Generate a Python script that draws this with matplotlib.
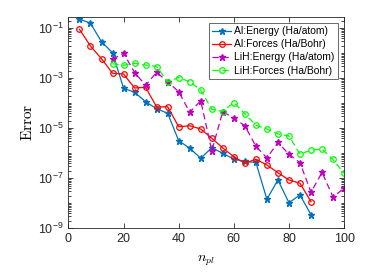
import numpy as np
from matplotlib import pyplot as plt
from matplotlib.ticker import FixedLocator, NullFormatter

plt.rcParams['font.family'] = ['Liberation Sans', 'DejaVu Sans']
plt.rcParams['mathtext.fontset'] = 'cm'

# Al results, n_pl = 4..88
n_al = list(range(4, 89, 4))
al_energy_log = [-0.63, -0.80, -1.54, -1.98, -3.40, -3.56, -3.94, -4.22, -4.40, -5.50,
                 -5.80, -6.20, -5.78, -6.00, -6.24, -6.33, -6.37, -7.84, -7.07, -7.98,
                 -7.67, -8.46]
al_forces_log = [-1.04, -1.71, -2.22, -2.80, -2.83, -3.39, -3.36, -4.15, -4.14, -4.94,
                 -4.90, -5.03, -5.40, -5.79, -6.14, -6.40, -6.24, -6.47, -6.78, -7.07,
                 -7.20, -7.94]

# LiH results, n_pl = 16..100
n_lih = list(range(16, 101, 4))
lih_energy_log = [-2.24, -2.00, -2.77, -3.28, -2.76, -3.14, -3.54, -4.36, -3.90, -5.90,
                  -4.33, -4.60, -4.90, -5.72, -6.19, -5.57, -6.04, -6.38, -7.56, -6.77,
                  -7.75, -7.40]
lih_forces_log = [-2.42, -2.48, -2.40, -2.47, -2.53, -3.14, -2.97, -3.14, -3.47, -4.24,
                  -4.33, -3.97, -4.42, -4.88, -5.03, -5.23, -5.31, -6.04, -5.87, -5.84,
                  -6.25, -6.81]

fig = plt.figure(figsize=(3.74, 2.8), dpi=100)
ax = fig.add_axes([0.183, 0.185, 0.737, 0.755])

ax.semilogy(n_al, 10.0 ** np.array(al_energy_log), '-', color='#0072BD', marker='*',
            markersize=4.5, lw=0.9, label='Al:Energy (Ha/atom)')
ax.semilogy(n_al, 10.0 ** np.array(al_forces_log), '-', color='r', marker='o',
            markersize=4, mfc='none', mew=0.9, lw=0.9, label='Al:Forces (Ha/Bohr)')
ax.semilogy(n_lih, 10.0 ** np.array(lih_energy_log), '--', color='m', marker='*',
            markersize=4.5, lw=0.9, dashes=(5, 3), label='LiH:Energy (Ha/atom)')
ax.semilogy(n_lih, 10.0 ** np.array(lih_forces_log), '--', color='#00FF00', marker='o',
            markersize=4, mfc='none', mew=0.9, lw=0.9, dashes=(5, 3),
            label='LiH:Forces (Ha/Bohr)')

ax.set_xlim(0, 100)
ax.set_ylim(1e-9, 10 ** -0.54)
ax.set_xticks(range(0, 101, 20))
ax.yaxis.set_major_locator(FixedLocator([1e-9, 1e-7, 1e-5, 1e-3, 1e-1]))
minors = [m * 10.0 ** k for k in range(-9, 0) for m in range(1, 10)]
ax.yaxis.set_minor_locator(FixedLocator(minors))
ax.yaxis.set_minor_formatter(NullFormatter())

ax.tick_params(which='both', direction='in', top=True, right=True, labelsize=9,
               color='#262626', labelcolor='#262626', width=0.6)
ax.tick_params(which='major', length=3.5)
ax.tick_params(which='minor', length=2)
for s in ax.spines.values():
    s.set_color('#262626')
    s.set_linewidth(0.6)

ax.set_xlabel(r'$n_{pl}$', fontsize=10, labelpad=6)
ax.set_ylabel(r'$\mathrm{Error}$', fontsize=11, labelpad=2)

leg = ax.legend(loc='upper right', fontsize=7.5, frameon=True, fancybox=False,
                borderpad=0.3, labelspacing=0.3, handlelength=1.8, handletextpad=0.3,
                borderaxespad=0.6)
leg.get_frame().set_edgecolor('#262626')
leg.get_frame().set_linewidth(0.6)

fig.savefig('out.png', dpi=100)
